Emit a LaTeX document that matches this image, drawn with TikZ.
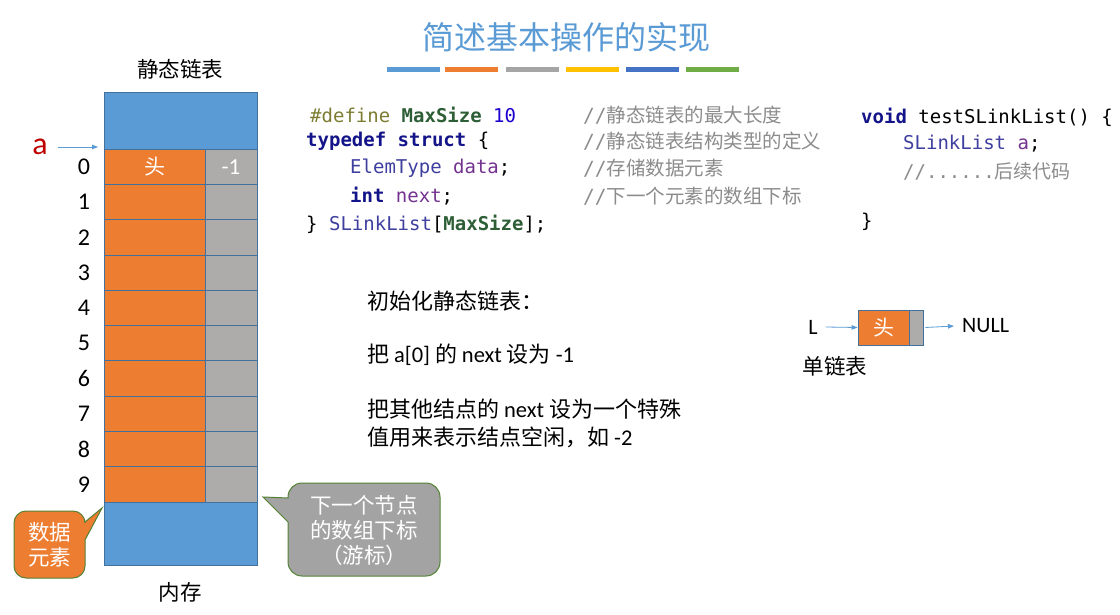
\documentclass[tikz,border=0pt]{standalone}
\usepackage{fontspec}
\setmainfont{Carlito}
\setmonofont{DejaVu Sans Mono}
\newfontfamily\cjk{Noto Sans CJK SC}
\usetikzlibrary{arrows.meta}

\definecolor{ppblue}{HTML}{5B9BD5}
\definecolor{pporange}{HTML}{ED7D31}
\definecolor{ppgray}{HTML}{A5A5A5}
\definecolor{ppyellow}{HTML}{FFC000}
\definecolor{ppdblue}{HTML}{4472C4}
\definecolor{ppgreen}{HTML}{70AD47}
\definecolor{cellgray}{HTML}{AEABAB}
\definecolor{cellline}{HTML}{41719C}
\definecolor{calloutline}{HTML}{548235}
\definecolor{calloutgray}{HTML}{A3A3A3}
\definecolor{kwnavy}{HTML}{14148A}
\definecolor{macrogreen}{HTML}{2D5E36}
\definecolor{ppolive}{HTML}{7D7D32}
\definecolor{numblue}{HTML}{1C00CF}
\definecolor{typepurple}{HTML}{3F3F9F}
\definecolor{varpurple}{HTML}{74338F}
\definecolor{cmtgray}{HTML}{8C8C8C}
\definecolor{ared}{HTML}{C00000}

% code token helpers
\newcommand{\kw}[1]{\textcolor{kwnavy}{\textbf{#1}}}
\newcommand{\mac}[1]{\textcolor{macrogreen}{\textbf{#1}}}
\newcommand{\typ}[1]{\textcolor{typepurple}{#1}}
\newcommand{\var}[1]{\textcolor{varpurple}{#1}}
\newcommand{\cmt}[1]{\textcolor{cmtgray}{//{\cjk #1}}}
\newcommand{\lat}[1]{{\rmfamily\fontsize{22.5}{26}\selectfont #1}}

\tikzset{
  datacell/.style={draw=cellline, line width=0.8pt, fill=pporange, minimum width=101pt, minimum height=35.3pt, inner sep=0pt, text=white},
  nextcell/.style={draw=cellline, line width=0.8pt, fill=cellgray, minimum width=52pt, minimum height=35.3pt, inner sep=0pt, text=white},
  membox/.style={draw=cellline, line width=0.8pt, fill=ppblue, minimum width=153pt, inner sep=0pt},
  arr/.style={draw=ppblue, line width=0.8pt, -{Triangle[length=6pt,width=4.5pt]}},
  lbl/.style={font=\fontsize{22}{26}\selectfont, inner sep=0pt},
  idxlbl/.style={font=\fontsize{24}{28}\selectfont, inner sep=0pt},
  cjklbl/.style={font=\cjk\fontsize{21.5}{26}\selectfont, inner sep=0pt},
  notelbl/.style={font=\cjk\fontsize{22}{26}\selectfont, inner sep=0pt, anchor=west},
  code/.style={font=\ttfamily\fontsize{19}{22}\selectfont, inner sep=0pt, anchor=west},
  colorbar/.style={line width=5pt},
  callout/.style={draw=calloutline, line width=1pt},
  callouttext/.style={font=\cjk\fontsize{21.5}{25}\selectfont, text=white, align=center, inner sep=0pt}
}

\begin{document}
\begin{tikzpicture}[x=1pt,y=-1pt]
\useasboundingbox (0,0) rectangle (1120,614);
\fill[white] (0,0) rectangle (1120,614);

% title and colour strip
\node[font=\cjk\fontsize{32}{36}\selectfont, text=ppblue, inner sep=0pt] (title) at (566,37) {简述基本操作的实现};
\foreach \xa/\xb/\c in {387/440/ppblue, 445/498/pporange, 506/559/ppgray, 566/619/ppyellow, 626/679/ppdblue, 686/739/ppgreen}
  \draw[colorbar, \c] (\xa,69.5) -- (\xb,69.5);

% static linked list in memory
\node[cjklbl] (sllabel) at (180,69) {静态链表};
\node[membox, minimum height=57pt] (memtop) at (180.5,120.5) {};
\foreach \i in {0,...,9} {
  \node[datacell] (d\i) at (154.5,{149+35.3*\i+17.65}) {};
  \node[nextcell] (n\i) at (231,{149+35.3*\i+17.65}) {};
  \node[idxlbl] (idx\i) at (84,{149+35.3*\i+17.65}) {\i};
}
\node[membox, minimum height=63pt] (membot) at (180.5,533.5) {};
\node[font=\cjk\fontsize{21}{24}\selectfont, text=white, inner sep=0pt] at (d0) {头};
\node[font=\fontsize{23}{26}\selectfont, text=white, inner sep=0pt] at (n0) {-1};
\node[cjklbl] (memlabel) at (180,592) {内存};

% pointer a
\node[font=\fontsize{32}{36}\selectfont, text=ared, inner sep=0pt] (a) at (40,147) {a};
\coordinate (atip) at (98,147);
\draw[arr] ([xshift=10pt]a.east |- atip) -- (atip);

% callout: data element
\draw[callout, fill=pporange] (85,540) [rounded corners=12pt] -- (85,578) -- (14,578) -- (14,511) -- (85,511) [sharp corners] -- (85,522) -- (102,508) -- cycle;
\node[callouttext] (datanote) at (49.5,545) {数据\\元素};

% callout: next index (cursor)
\draw[callout, fill=calloutgray] (288,522) [rounded corners=14pt] -- (288,576) -- (440,576) -- (440,483) -- (288,483) [sharp corners] -- (288,498) -- (263,497) -- cycle;
\node[callouttext] (nextnote) at (364,530) {下一个节点\\的数组下标\\（游标）};

% type definition
\node[code] (c1) at (310,115) {\textcolor{ppolive}{\#define} \mac{MaxSize} \textcolor{numblue}{10}};
\node[code] (c2) at (306,141) {\kw{typedef} \kw{struct} \{};
\node[code] (c3) at (350,168) {\typ{ElemType} \var{data};};
\node[code] (c4) at (350,196) {\kw{int} \var{next};};
\node[code] (c5) at (306,224) {\} \typ{SLinkList}[\mac{MaxSize}];};
\node[code, font=\ttfamily\fontsize{19.5}{22}\selectfont] (m1) at (583,115) {\cmt{静态链表的最大长度}};
\node[code, font=\ttfamily\fontsize{19.5}{22}\selectfont] (m2) at (583,141) {\cmt{静态链表结构类型的定义}};
\node[code, font=\ttfamily\fontsize{19.5}{22}\selectfont] (m3) at (583,168) {\cmt{存储数据元素}};
\node[code, font=\ttfamily\fontsize{19.5}{22}\selectfont] (m4) at (583,196) {\cmt{下一个元素的数组下标}};

% test function
\node[code] (t1) at (861,117) {\kw{void} testSLinkList() \{};
\node[code] (t2) at (903,144) {\typ{SLinkList} \var{a};};
\node[code] (t3) at (903,171) {\textcolor{cmtgray}{//......{\cjk 后续代码}}};
\node[code] (t4) at (861,222) {\}};

% initialisation notes
\node[notelbl] (s1) at (367,301) {初始化静态链表：};
\node[notelbl] (s2) at (367,355) {把 \lat{a[0]} 的 \lat{next} 设为 \lat{-1}};
\node[notelbl] (s3) at (367,409) {把其他结点的 \lat{next} 设为一个特殊};
\node[notelbl] (s4) at (367,437) {值用来表示结点空闲，如 \lat{-2}};

% singly linked list sketch
\node[lbl] (L) at (813,327) {L};
\node[draw=cellline, line width=0.8pt, fill=pporange, minimum width=51pt, minimum height=35pt, inner sep=0pt, text=white, font=\cjk\fontsize{21}{24}\selectfont] (head) at (883.5,327.5) {头};
\node[draw=cellline, line width=0.8pt, fill=cellgray, minimum width=14pt, minimum height=35pt, inner sep=0pt] (hnext) at (916,327.5) {};
\node[lbl, anchor=west] (null) at (962,326) {NULL};
\draw[arr] ([xshift=8pt]L.east) -- (head.west);
\draw[arr] ([xshift=2pt]hnext.east) -- ([xshift=-8pt]null.west);
\node[cjklbl] (sll) at (835,366) {单链表};
\end{tikzpicture}
\end{document}
